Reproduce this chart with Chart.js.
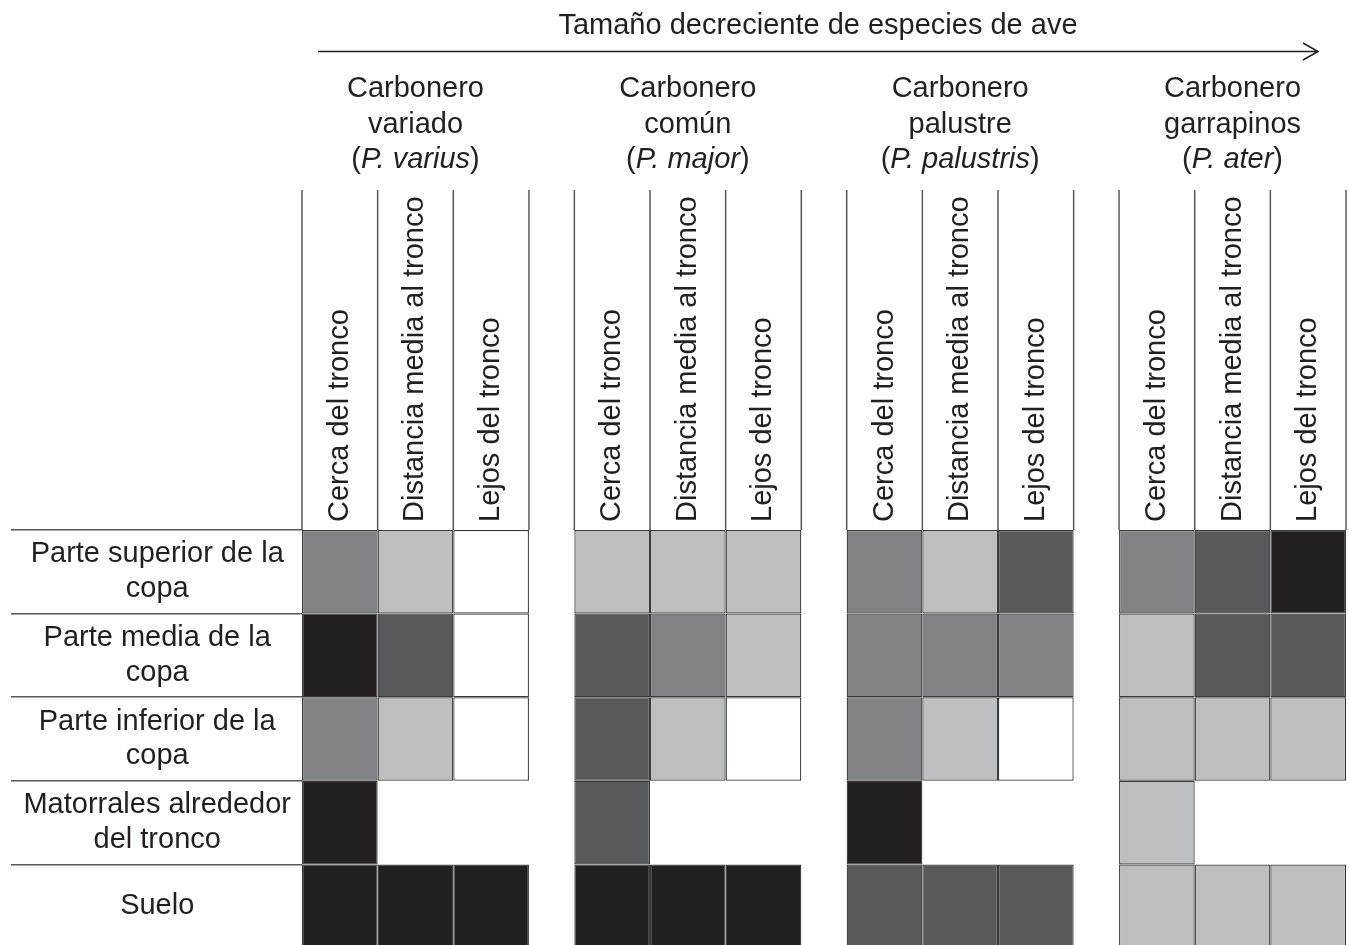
<!DOCTYPE html>
<html>
<head>
<meta charset="utf-8">
<script src="https://cdn.jsdelivr.net/npm/chart.js@4"></script>
<style>
html,body{margin:0;padding:0;background:#ffffff;overflow:hidden;}
#wrap{width:1349px;height:948px;position:relative;}
</style>
</head>
<body>
<div id="wrap"><canvas id="chart"></canvas></div>
<script>
// ---------- data ----------
const title = 'Tamaño decreciente de especies de ave';
const species = [
  ['Carbonero', 'variado', 'P. varius'],
  ['Carbonero', 'común', 'P. major'],
  ['Carbonero', 'palustre', 'P. palustris'],
  ['Carbonero', 'garrapinos', 'P. ater']
];
const positions = ['Cerca del tronco', 'Distancia media al tronco', 'Lejos del tronco'];
const rows = [
  ['Parte superior de la', 'copa'],
  ['Parte media de la', 'copa'],
  ['Parte inferior de la', 'copa'],
  ['Matorrales alrededor', 'del tronco'],
  ['Suelo']
];
// foraging intensity: 0 = white ... 4 = black; null = no cell
const variado    = [[2, 1, 0], [4, 3, 0], [2, 1, 0], [4, null, null], [4, 4, 4]];
const comun      = [[1, 1, 1], [3, 2, 1], [3, 1, 0], [3, null, null], [4, 4, 4]];
const palustre   = [[2, 1, 3], [2, 2, 2], [2, 1, 0], [4, null, null], [3, 3, 3]];
const garrapinos = [[2, 3, 4], [1, 3, 3], [1, 1, 1], [1, null, null], [1, 1, 1]];

// ---------- styling ----------
const shades = ['#ffffff', '#bcbec0', '#808285', '#58595b', '#231f20'];
const FONT_FAMILY = '"Liberation Sans", Arial, Helvetica, sans-serif';
const FONT_SIZE = 29;
const LINE_HEIGHT = 1.2;
const TEXT = '#231f20';
const LINE = '#58595b';
const GAP = 0.6; // gap between species blocks, in column units

const grids = [variado, comun, palustre, garrapinos];
const nCols = positions.length;
const colStart = (g, c) => g * (nCols + GAP) + c;
const xMax = colStart(species.length - 1, nCols);
const centers = [];
species.forEach((s, g) => positions.forEach((p, c) => centers.push(colStart(g, c) + 0.5)));

const datasets = [];
grids.forEach((grid, g) => {
  positions.forEach((p, c) => {
    datasets.push({
      label: species[g][0] + ' ' + species[g][1] + ' - ' + p,
      data: grid.map(r => r[c] === null ? null : [colStart(g, c), colStart(g, c) + 1]),
      backgroundColor: grid.map(r => r[c] === null ? 'rgba(0,0,0,0)' : shades[r[c]])
    });
  });
});

const headerPlugin = {
  id: 'headerPlugin',
  afterDraw(chart) {
    const {ctx, chartArea, scales: {x}} = chart;
    const headTop = chartArea.top - 340;
    ctx.save();
    // column divider lines in header band
    ctx.strokeStyle = LINE;
    ctx.lineWidth = 1.5;
    species.forEach((s, g) => {
      for (let c = 0; c <= nCols; c++) {
        const px = x.getPixelForValue(colStart(g, c));
        ctx.beginPath();
        ctx.moveTo(px, headTop);
        ctx.lineTo(px, chartArea.top);
        ctx.stroke();
      }
    });
    // title and arrow
    const aStart = x.left + 16, aEnd = x.right - 28, aY = 51.5;
    ctx.fillStyle = TEXT;
    ctx.font = FONT_SIZE + 'px ' + FONT_FAMILY;
    ctx.textAlign = 'center';
    ctx.textBaseline = 'alphabetic';
    ctx.fillText(title, (aStart + aEnd) / 2, 34);
    ctx.strokeStyle = TEXT;
    ctx.lineWidth = 1.5;
    ctx.beginPath();
    ctx.moveTo(aStart, aY);
    ctx.lineTo(aEnd, aY);
    ctx.moveTo(aEnd - 15, aY - 8.5);
    ctx.lineTo(aEnd, aY);
    ctx.lineTo(aEnd - 15, aY + 8.5);
    ctx.stroke();
    // species headers
    const normal = FONT_SIZE + 'px ' + FONT_FAMILY;
    const italic = 'italic ' + FONT_SIZE + 'px ' + FONT_FAMILY;
    species.forEach((s, g) => {
      const cx = (x.getPixelForValue(colStart(g, 0)) + x.getPixelForValue(colStart(g, nCols))) / 2;
      ctx.font = normal;
      ctx.textAlign = 'center';
      ctx.fillText(s[0], cx, 97);
      ctx.fillText(s[1], cx, 132.5);
      // (italic)
      ctx.font = normal;
      const wp = ctx.measureText('(').width;
      const wq = ctx.measureText(')').width;
      ctx.font = italic;
      const wi = ctx.measureText(s[2]).width;
      let left = cx - (wp + wi + wq) / 2;
      ctx.textAlign = 'left';
      ctx.font = normal;
      ctx.fillText('(', left, 168);
      ctx.font = italic;
      ctx.fillText(s[2], left + wp, 168);
      ctx.font = normal;
      ctx.fillText(')', left + wp + wi, 168);
    });
    ctx.restore();
  }
};

Chart.defaults.font.family = FONT_FAMILY;
Chart.defaults.font.size = FONT_SIZE;
Chart.defaults.color = TEXT;

new Chart(document.getElementById('chart'), {
  type: 'bar',
  data: {labels: rows, datasets: datasets},
  plugins: [headerPlugin],
  options: {
    indexAxis: 'y',
    responsive: true,
    maintainAspectRatio: false,
    animation: false,
    events: [],
    layout: {padding: {top: 190, right: 3, bottom: 0, left: 0}},
    datasets: {
      bar: {
        grouped: false,
        categoryPercentage: 1,
        barPercentage: 1,
        borderWidth: 1.25,
        borderColor: '#3a3a3c',
        borderSkipped: false,
        inflateAmount: 0
      }
    },
    plugins: {
      legend: {display: false},
      tooltip: {enabled: false},
      title: {display: false}
    },
    scales: {
      x: {
        type: 'linear',
        position: 'top',
        min: 0,
        max: xMax,
        afterBuildTicks: s => { s.ticks = centers.map(v => ({value: v})); },
        afterFit: s => { s.height = 340; },
        ticks: {
          autoSkip: false,
          minRotation: 90,
          maxRotation: 90,
          padding: 8,
          labelOffset: FONT_SIZE * LINE_HEIGHT,
          color: TEXT,
          font: {size: FONT_SIZE, family: FONT_FAMILY, lineHeight: LINE_HEIGHT},
          callback: (v, i) => positions[i % nCols]
        },
        grid: {display: false, drawTicks: false},
        border: {display: false}
      },
      y: {
        type: 'category',
        afterFit: s => { s.width = 302; },
        ticks: {
          autoSkip: false,
          crossAlign: 'center',
          padding: -280,
          color: TEXT,
          font: {size: FONT_SIZE, family: FONT_FAMILY, lineHeight: LINE_HEIGHT}
        },
        grid: {
          drawOnChartArea: false,
          drawTicks: true,
          tickLength: 291,
          color: LINE,
          tickColor: LINE,
          lineWidth: 1.5
        },
        border: {display: false}
      }
    }
  }
});
</script>
</body>
</html>
